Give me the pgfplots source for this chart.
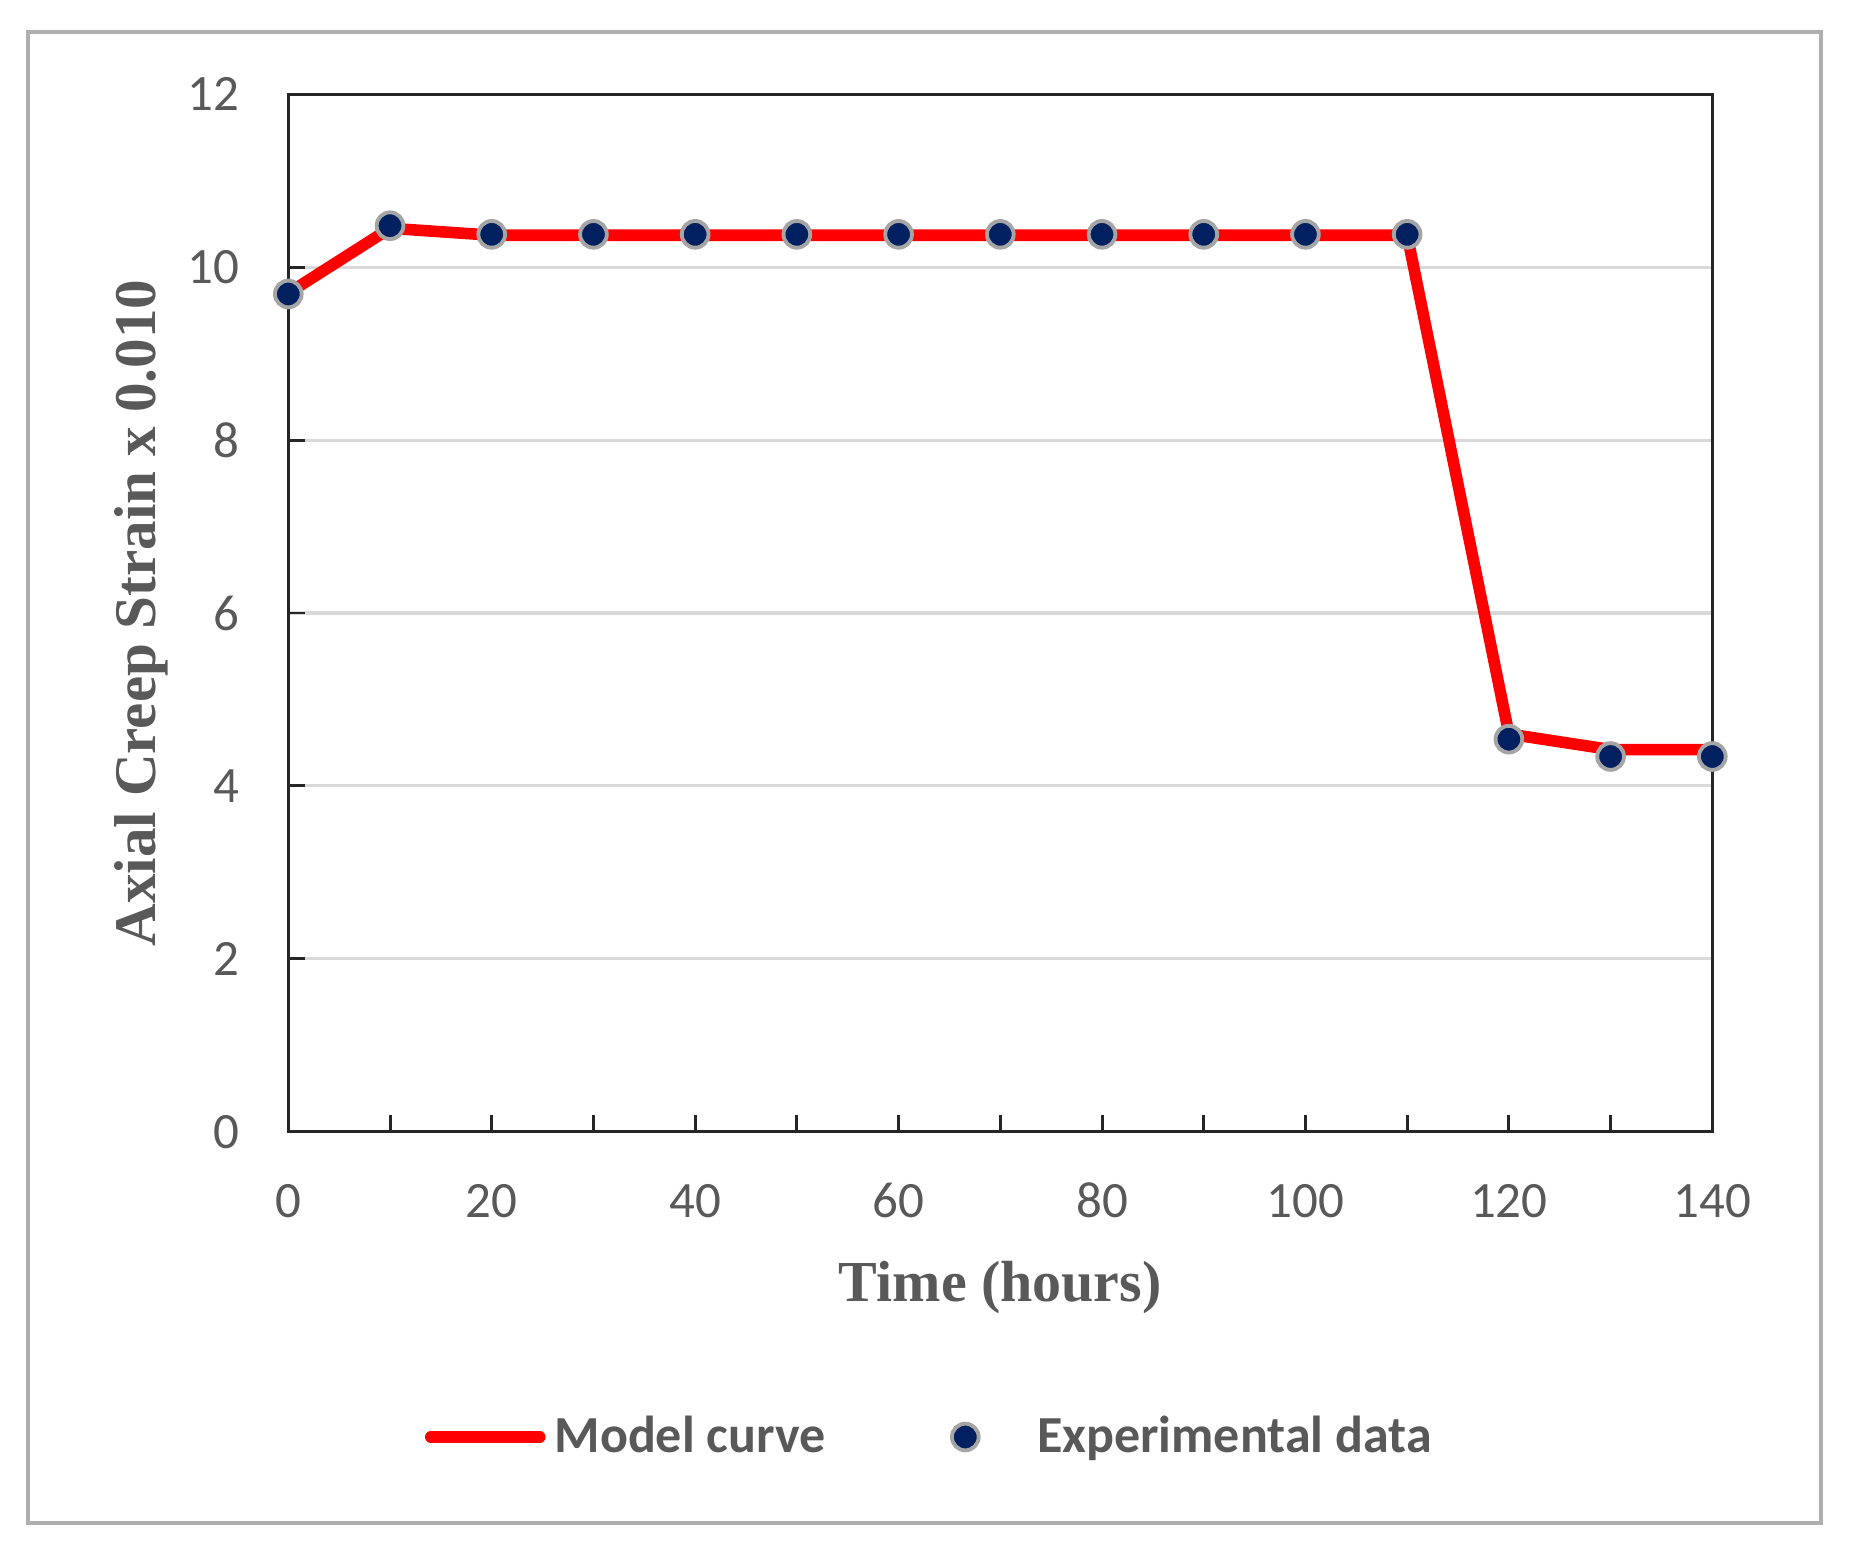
\documentclass[border=0pt]{standalone}
\usepackage{fontspec}
\setmainfont{Carlito}
\newfontfamily\labelfont{Liberation Serif}
\usepackage{pgfplots}
\pgfplotsset{compat=1.18}

\definecolor{txtgray}{RGB}{89,89,89}
\definecolor{navy}{RGB}{0,32,96}
\definecolor{halo}{RGB}{165,165,165}
\definecolor{gridgray}{RGB}{217,217,217}
\definecolor{framegray}{RGB}{175,175,175}

\begin{document}
\begin{tikzpicture}
\path (0,0) rectangle (18.51cm,15.64cm);
\draw[framegray, line width=1.1pt] (0.283cm,0.41cm) rectangle (18.21cm,15.323cm);
\begin{axis}[
  at={(2.883cm,4.323cm)}, anchor=south west,
  width=14.24cm, height=10.374cm, scale only axis,
  clip=false,
  xmin=0, xmax=140, ymin=0, ymax=12,
  xtick={0,10,...,140},
  xticklabels={0,,20,,40,,60,,80,,100,,120,,140},
  ytick={0,2,...,12},
  tick pos=left, tick align=inside,
  major tick length=0.17cm,
  every tick/.style={black!85, line width=0.85pt},
  axis line style={black!85, line width=0.85pt},
  ymajorgrids,
  major grid style={draw=gridgray, line width=0.9pt},
  /pgf/number format/assume math mode=true,
  tick label style={font=\fontsize{14.5}{17}\selectfont, text=txtgray, inner sep=0pt},
  xticklabel style={anchor=center, yshift=-0.69cm},
  yticklabel style={anchor=east, xshift=-0.48cm},
  xlabel={Time (hours)},
  xlabel style={font=\labelfont\bfseries\fontsize{16.5}{20}\selectfont, text=txtgray,
    at={(axis description cs:0.5,-0.1639)}, anchor=base},
  ylabel={Axial Creep Strain x 0.010},
  ylabel style={font=\labelfont\bfseries\fontsize{16.8}{20}\selectfont, text=txtgray,
    at={(axis description cs:-0.0934,0.5)}, anchor=base},
  legend columns=2,
  legend style={at={(axis description cs:0.096,-0.2943)}, anchor=west,
    draw=none, fill=none, inner sep=0pt, outer sep=0pt,
    cells={anchor=west}, nodes={inner sep=0pt},
    font=\bfseries\fontsize{14.8}{17}\selectfont, text=txtgray},
]
\addplot[red, line width=3.3pt, line join=round, no marks,
  legend image code/.code={\draw[line cap=round] (0cm,0cm) -- (1.09cm,0cm); \path (1.18cm,0cm);}]
  coordinates {
  (0,9.7) (10,10.45) (20,10.37) (30,10.37) (40,10.37) (50,10.37) (60,10.37)
  (70,10.37) (80,10.37) (90,10.37) (100,10.37) (110,10.37) (120,4.6)
  (130,4.42) (140,4.42)
};
\addlegendentry{Model curve}
\addplot[only marks, mark=*, mark size=3.8pt,
  mark options={fill=navy, draw=halo, line width=1.1pt},
  legend image code/.code={\draw plot coordinates {(1.39cm,0cm)}; \path (0cm,0cm) (2.10cm,0cm);}]
  coordinates {
  (0,9.69) (10,10.48) (20,10.38) (30,10.38) (40,10.38) (50,10.38) (60,10.38)
  (70,10.38) (80,10.38) (90,10.38) (100,10.38) (110,10.38) (120,4.54)
  (130,4.34) (140,4.34)
};
\addlegendentry{Experimental data}
\end{axis}
\end{tikzpicture}
\end{document}
